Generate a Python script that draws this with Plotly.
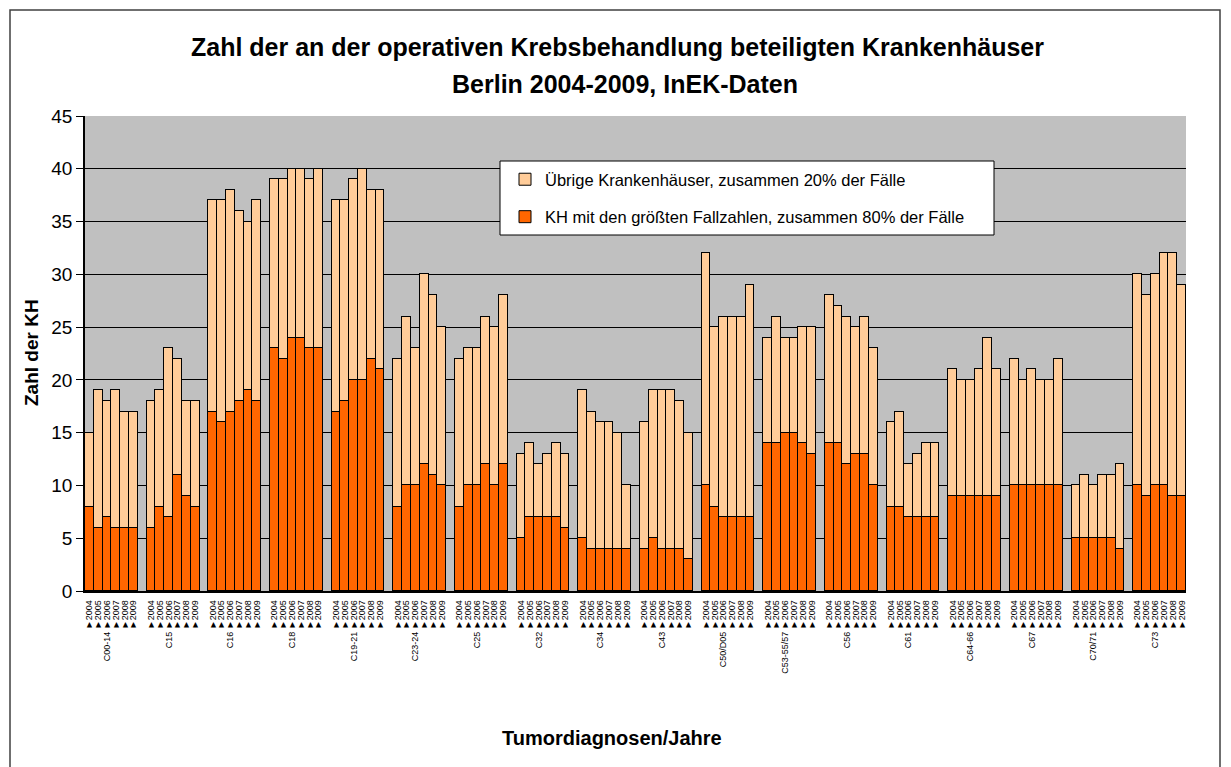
import plotly.graph_objects as go

groups = ["C00-14", "C15", "C16", "C18", "C19-21", "C23-24", "C25", "C32", "C34",
          "C43", "C50/D05", "C53-55/57", "C56", "C61", "C64-66", "C67", "C70/71", "C73"]
years = ["2004", "2005", "2006", "2007", "2008", "2009"]

# Hospitals with the largest case numbers (together 80% of cases), per group 2004-2009
kh_top80 = [
    8, 6, 7, 6, 6, 6,
    6, 8, 7, 11, 9, 8,
    17, 16, 17, 18, 19, 18,
    23, 22, 24, 24, 23, 23,
    17, 18, 20, 20, 22, 21,
    8, 10, 10, 12, 11, 10,
    8, 10, 10, 12, 10, 12,
    5, 7, 7, 7, 7, 6,
    5, 4, 4, 4, 4, 4,
    4, 5, 4, 4, 4, 3,
    10, 8, 7, 7, 7, 7,
    14, 14, 15, 15, 14, 13,
    14, 14, 12, 13, 13, 10,
    8, 8, 7, 7, 7, 7,
    9, 9, 9, 9, 9, 9,
    10, 10, 10, 10, 10, 10,
    5, 5, 5, 5, 5, 4,
    10, 9, 10, 10, 9, 9,
]
# Total number of hospitals
kh_total = [
    15, 19, 18, 19, 17, 17,
    18, 19, 23, 22, 18, 18,
    37, 37, 38, 36, 35, 37,
    39, 39, 40, 40, 39, 40,
    37, 37, 39, 40, 38, 38,
    22, 26, 23, 30, 28, 25,
    22, 23, 23, 26, 25, 28,
    13, 14, 12, 13, 14, 13,
    19, 17, 16, 16, 15, 10,
    16, 19, 19, 19, 18, 15,
    32, 25, 26, 26, 26, 29,
    24, 26, 24, 24, 25, 25,
    28, 27, 26, 25, 26, 23,
    16, 17, 12, 13, 14, 14,
    21, 20, 20, 21, 24, 21,
    22, 20, 21, 20, 20, 22,
    10, 11, 10, 11, 11, 12,
    30, 28, 30, 32, 32, 29,
]
kh_rest = [t - k for t, k in zip(kh_total, kh_top80)]

name_rest = "Übrige Krankenhäuser, zusammen 20% der Fälle"
name_top = "KH mit den größten Fallzahlen, zusammen 80% der Fälle"

# build category axis: 6 years per group, one empty slot between groups
cats, y_top, y_rest, tickvals, ticktext = [], [], [], [], []
i = 0
for gi, g in enumerate(groups):
    if gi > 0:
        cats.append(f"gap{gi}")
        y_top.append(None)
        y_rest.append(None)
    for yr in years:
        c = f"{g}|{yr}"
        cats.append(c)
        y_top.append(kh_top80[i])
        y_rest.append(kh_rest[i])
        tickvals.append(c)
        ticktext.append((g + " ►" if yr == "2006" else "►") + yr)
        i += 1

FONT = "Liberation Sans, Arial, sans-serif"
DARK = "#FF6600"
LIGHT = "#FFCC99"

fig = go.Figure()
fig.add_trace(go.Bar(x=cats, y=y_top, name=name_top, legendgroup="g2", legendrank=2,
                     marker=dict(color=DARK, line=dict(color="black", width=1))))
fig.add_trace(go.Bar(x=cats, y=y_rest, name=name_rest, legendgroup="g1", legendrank=1,
                     marker=dict(color=LIGHT, line=dict(color="black", width=1))))

L, R, T, B = 85, 1231 - 1186, 116, 767 - 591
W, H = 1231 - L - R, 767 - T - B

def px_x(p):
    return (p - L) / W

def px_y(p):
    return (767 - B - p) / H

fig.update_layout(
    width=1231, height=767,
    margin=dict(l=L, r=R, t=T, b=B, pad=0),
    barmode="stack", bargap=0,
    paper_bgcolor="white", plot_bgcolor="#C0C0C0",
    font=dict(family=FONT, color="black"),
    showlegend=True,
    legend=dict(x=px_x(505), y=px_y(162), xanchor="left", yanchor="top",
                traceorder="grouped", tracegroupgap=13,
                bgcolor="rgba(0,0,0,0)", borderwidth=0,
                font=dict(size=16.5, family=FONT, color="black")),
    xaxis=dict(type="category", categoryorder="array", categoryarray=cats,
               tickvals=tickvals, ticktext=ticktext, tickangle=-90,
               tickfont=dict(size=9, family=FONT, color="black"),
               ticks="", ticklabelstandoff=4,
               showline=True, linecolor="black", linewidth=1.5,
               showgrid=False, zeroline=False, fixedrange=True),
    yaxis=dict(range=[0, 45], dtick=5, tick0=0,
               tickfont=dict(size=19, family=FONT, color="black"),
               ticks="outside", ticklen=7, tickcolor="black",
               showline=True, linecolor="black", linewidth=1.5,
               showgrid=True, gridcolor="black", gridwidth=1,
               zeroline=False, fixedrange=True),
    shapes=[
        # outer chart frame
        dict(type="rect", xref="paper", yref="paper",
             x0=px_x(10), x1=px_x(1220), y0=px_y(800), y1=px_y(10),
             line=dict(color="#404040", width=1.5), fillcolor="rgba(0,0,0,0)",
             layer="below"),
        # legend box
        dict(type="rect", xref="paper", yref="paper",
             x0=px_x(500), x1=px_x(994), y0=px_y(235), y1=px_y(161),
             line=dict(color="black", width=1), fillcolor="white", layer="above"),
    ],
    annotations=[
        dict(text="<b>Zahl der an der operativen Krebsbehandlung beteiligten Krankenhäuser</b>",
             xref="paper", yref="paper", x=px_x(617), y=px_y(47),
             showarrow=False, xanchor="center", yanchor="middle",
             font=dict(size=25, family=FONT, color="black")),
        dict(text="<b>Berlin 2004-2009, InEK-Daten</b>",
             xref="paper", yref="paper", x=px_x(625), y=px_y(84),
             showarrow=False, xanchor="center", yanchor="middle",
             font=dict(size=25, family=FONT, color="black")),
        dict(text="<b>Zahl der KH</b>", textangle=-90,
             xref="paper", yref="paper", x=px_x(31), y=px_y(353),
             showarrow=False, xanchor="center", yanchor="middle",
             font=dict(size=19, family=FONT, color="black")),
        dict(text="<b>Tumordiagnosen/Jahre</b>",
             xref="paper", yref="paper", x=px_x(612), y=px_y(738),
             showarrow=False, xanchor="center", yanchor="middle",
             font=dict(size=20, family=FONT, color="black")),
    ],
)

fig.write_html("out.html", config={"displayModeBar": False},
               post_script="document.body.style.margin='0';document.body.style.overflow='hidden';")
